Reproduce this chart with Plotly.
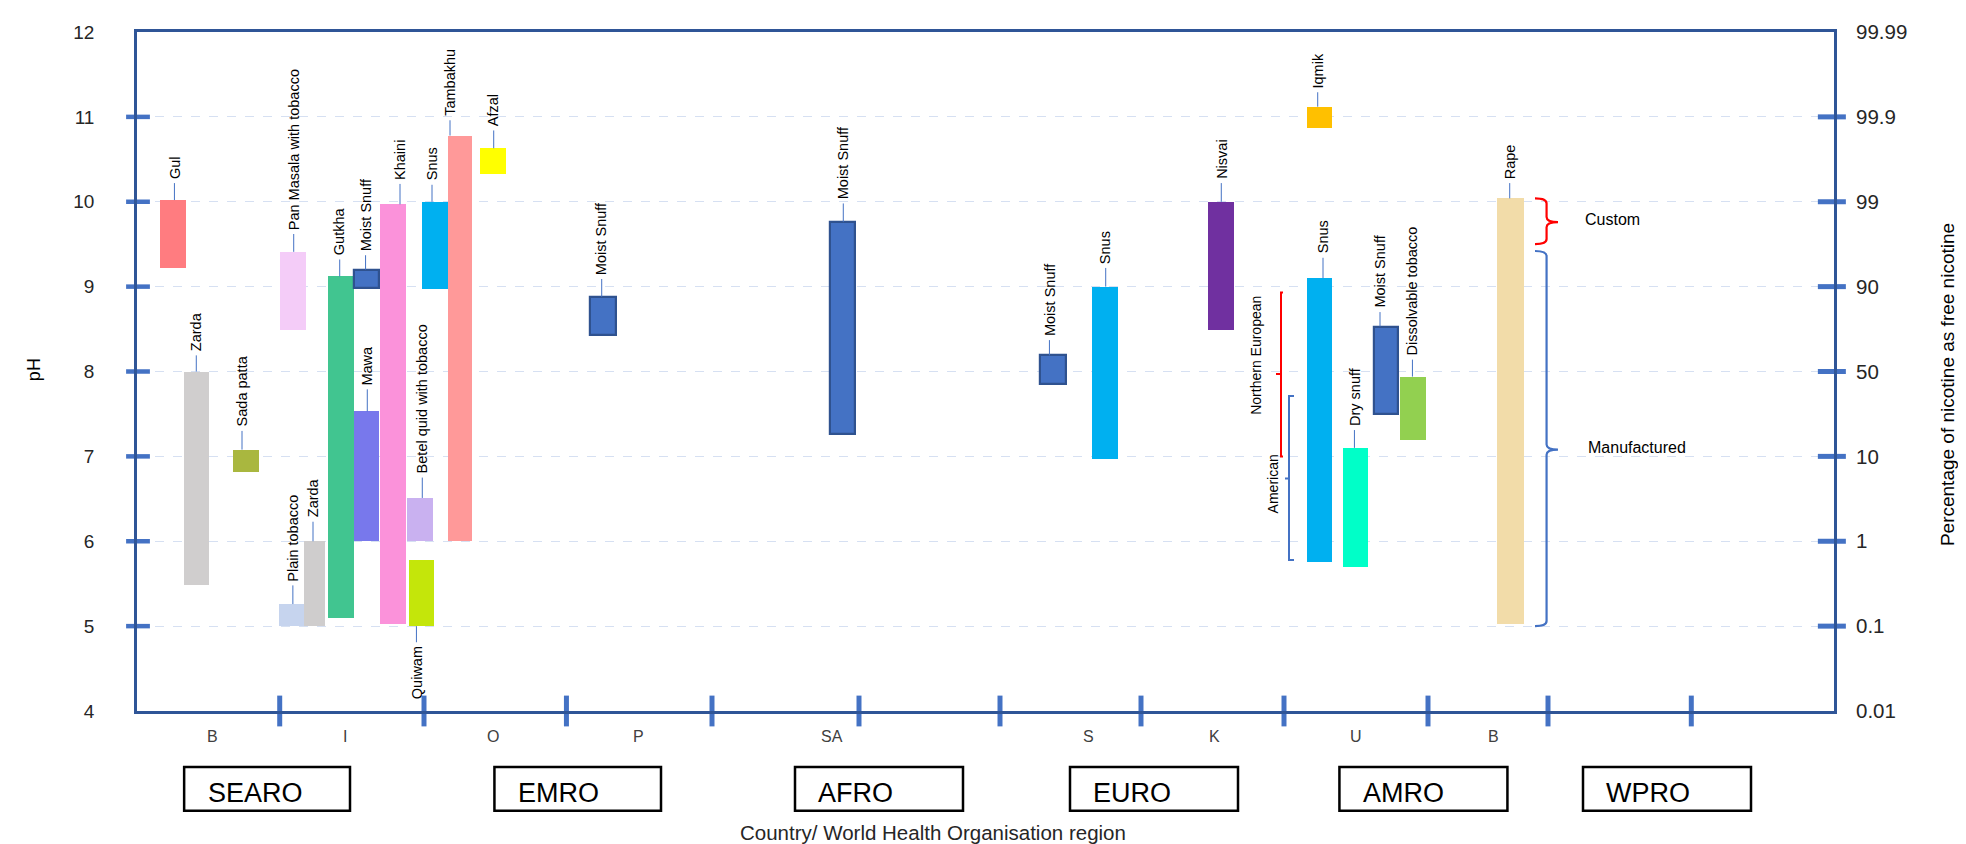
import plotly.graph_objects as go

# ---------------- data ----------------
# x axis: one unit per country slot
country_codes = ["B", "I", "O", "P", "SA", "S", "K", "U", "B"]
country_pos = [0.525, 1.456, 2.492, 3.512, 4.863, 6.662, 7.539, 8.533, 9.497]
slot_ticks = [0.999, 2.009, 3.006, 4.025, 5.054, 6.041, 7.028, 8.029, 9.037, 9.877, 10.88]

who_regions = ["SEARO", "EMRO", "AFRO", "EURO", "AMRO", "WPRO"]
region_from = [0.33, 2.502, 4.606, 6.531, 8.417, 10.122]
region_to = [1.491, 3.668, 5.782, 7.707, 9.593, 11.298]

ph_ticks = [4, 5, 6, 7, 8, 9, 10, 11, 12]
pct_free = ["0.01", "0.1", "1", "10", "50", "90", "99", "99.9", "99.99"]

products = ["Gul", "Zarda", "Sada patta", "Pan Masala with tobacco", "Plain tobacco",
            "Zarda", "Gutkha", "Moist Snuff", "Mawa", "Khaini",
            "Betel quid with tobacco", "Quiwam", "Snus", "Tambakhu", "Afzal",
            "Moist Snuff", "Moist Snuff", "Moist Snuff", "Snus", "Nisvai",
            "Iqmik", "Snus", "Dry snuff", "Moist Snuff", "Dissolvable tobacco", "Rape"]
product_x = [0.253, 0.416, 0.762, 1.094, 1.081,
             1.241, 1.430, 1.607, 1.607, 1.791,
             1.980, 1.992, 2.086, 2.263, 2.491,
             3.264, 4.938, 6.413, 6.777, 7.589,
             8.278, 8.278, 8.529, 8.745, 8.930, 9.614]
ph_low = [9.22, 5.49, 6.82, 8.49, 5.00,
          5.00, 5.09, 8.98, 6.00, 5.02,
          6.00, 5.00, 8.97, 6.00, 10.33,
          8.43, 7.26, 7.85, 6.97, 8.49,
          10.87, 5.75, 5.70, 7.50, 7.19, 5.02]
ph_high = [10.02, 8.00, 7.08, 9.41, 5.26,
           6.00, 9.12, 9.20, 7.53, 9.97,
           6.51, 5.78, 10.00, 10.78, 10.63,
           8.88, 9.76, 8.19, 9.00, 10.00,
           11.12, 9.10, 7.10, 8.53, 7.94, 10.04]

# bracket groups (pH spans)
bracket_names = ["Northern European", "American", "Custom", "Manufactured"]
bracket_top = [8.93, 7.71, 10.04, 9.42]
bracket_mid = [7.97, 6.74, 9.76, 7.08]
bracket_bot = [7.00, 5.78, 9.50, 5.00]

# ---------------- styles / label placement ----------------
bar_colors = ["#FF7C80", "#D0CECE", "#A9B73F", "#F4CCF8", "#C6D4EE",
              "#CFCDCD", "#41C590", "#4472C4", "#7878EC", "#FB92DA",
              "#C9B1F0", "#C4E60A", "#00B0F0", "#FF9999", "#FFFF00",
              "#4472C4", "#4472C4", "#4472C4", "#00B0F0", "#7030A0",
              "#FFC000", "#00B0F0", "#00FFC8", "#4472C4", "#92D050", "#F2DCA9"]
bar_widths = [0.18, 0.18, 0.18, 0.18, 0.17,
              0.15, 0.18, 0.18, 0.18, 0.18,
              0.18, 0.18, 0.18, 0.17, 0.18,
              0.18, 0.18, 0.18, 0.18, 0.18,
              0.18, 0.18, 0.18, 0.17, 0.18, 0.19]
label_x = [0.262, 0.415, 0.735, 1.097, 1.091,
           1.232, 1.419, 1.600, 1.612, 1.841,
           1.997, 1.956, 2.065, 2.191, 2.497,
           3.253, 4.944, 6.387, 6.781, 7.590,
           8.265, 8.302, 8.522, 8.701, 8.928, 9.609]
label_y = [10.22, 8.19, 7.30, 9.62, 5.48,
           6.23, 9.32, 9.37, 7.79, 10.21,
           6.75, 4.81, 10.20, 10.96, 10.84,
           9.09, 9.98, 8.37, 9.22, 10.22,
           11.29, 9.34, 7.31, 8.70, 8.14, 10.22]
label_below = [p == "Quiwam" for p in products]

AXIS = "#2F5597"
TICK = "#4472C4"
FONT = "Liberation Sans, Arial, sans-serif"
XMAX = 11.879

fig = go.Figure()

# bars: floating ranges from ph_low to ph_high
is_moist = [p == "Moist Snuff" for p in products]
fig.add_trace(go.Bar(
    x=product_x, y=[h - l for h, l in zip(ph_high, ph_low)], base=ph_low,
    width=bar_widths,
    marker=dict(color=bar_colors,
                line=dict(color=["#2F528F" if m else c for m, c in zip(is_moist, bar_colors)],
                          width=[2.2 if m else 0 for m in is_moist])),
    showlegend=False, hoverinfo="skip"))

# x-axis tick dashes
fig.add_trace(go.Scatter(
    x=slot_ticks, y=[ph_ticks[0]] * len(slot_ticks), mode="markers",
    marker=dict(symbol="line-ns", size=22, line=dict(width=5, color=TICK)),
    cliponaxis=False, showlegend=False, hoverinfo="skip"))
# left y-axis tick dashes
inner = ph_ticks[1:-1]
fig.add_trace(go.Scatter(
    x=[0.007] * len(inner), y=inner, mode="markers",
    marker=dict(symbol="line-ew", size=17, line=dict(width=4.5, color=TICK)),
    cliponaxis=False, showlegend=False, hoverinfo="skip"))
# right y-axis tick dashes (on secondary axis)
fig.add_trace(go.Scatter(
    x=[XMAX - 0.015] * len(inner), y=inner, mode="markers", yaxis="y2",
    marker=dict(symbol="line-ew", size=20, line=dict(width=5, color=TICK)),
    cliponaxis=False, showlegend=False, hoverinfo="skip"))

shapes = []
annotations = []

# product labels and leader lines
for name, lx, ly, lo, hi, below in zip(products, label_x, label_y, ph_low, ph_high, label_below):
    if below:
        shapes.append(dict(type="line", xref="x", yref="y", x0=lx, x1=lx, y0=lo, y1=ly,
                           line=dict(color=TICK, width=1)))
        annotations.append(dict(text=name, x=lx, y=ly, xref="x", yref="y", textangle=-90,
                                xanchor="center", yanchor="top", yshift=-2, showarrow=False,
                                font=dict(family=FONT, size=14.5, color="#000000")))
    else:
        shapes.append(dict(type="line", xref="x", yref="y", x0=lx, x1=lx, y0=hi, y1=ly,
                           line=dict(color=TICK, width=1)))
        annotations.append(dict(text=name, x=lx, y=ly, xref="x", yref="y", textangle=-90,
                                xanchor="center", yanchor="bottom", yshift=2, showarrow=False,
                                font=dict(family=FONT, size=14.5, color="#000000")))

# left-facing brackets (Northern European / American)
left_br = [(8.008, 8.022, 7.973, "#FF0000"), (8.064, 8.099, 8.036, TICK)]
for (xv, xh, xs, col), t, m, b in zip(left_br, bracket_top[:2], bracket_mid[:2], bracket_bot[:2]):
    path = (f"M {xh},{t} L {xv},{t} L {xv},{b} L {xh},{b} "
            f"M {xv},{m} L {xs},{m}")
    shapes.append(dict(type="path", xref="x", yref="y", path=path,
                       line=dict(color=col, width=2)))
annotations.append(dict(text=bracket_names[0], x=7.833, y=(bracket_top[0] + bracket_bot[0]) / 2 + 0.22,
                        xref="x", yref="y", textangle=-90, showarrow=False,
                        font=dict(family=FONT, size=14, color="#000000")))
annotations.append(dict(text=bracket_names[1], x=7.952, y=bracket_mid[1] - 0.07,
                        xref="x", yref="y", textangle=-90, showarrow=False,
                        font=dict(family=FONT, size=14, color="#000000")))


# right-facing curly braces (Custom / Manufactured)
def brace(xl, xv, xt, t, m, b, r):
    return (f"M {xl},{t} Q {xv},{t} {xv},{t - r} L {xv},{m + r} Q {xv},{m} {xt},{m} "
            f"Q {xv},{m} {xv},{m - r} L {xv},{b + r} Q {xv},{b} {xl},{b}")


for col, t, m, b in zip(["#FF0000", TICK], bracket_top[2:], bracket_mid[2:], bracket_bot[2:]):
    shapes.append(dict(type="path", xref="x", yref="y",
                       path=brace(9.786, 9.867, 9.947, t, m, b, 0.06),
                       line=dict(color=col, width=2.2)))
for name, m, tx in zip(bracket_names[2:], [9.79, 7.11], [10.122, 10.14]):
    annotations.append(dict(text=name, x=tx, y=m, xref="x", yref="y", xanchor="left",
                            showarrow=False, font=dict(family=FONT, size=16, color="#000000")))

# country codes under the axis
for code, cx in zip(country_codes, country_pos):
    annotations.append(dict(text=code, x=cx, y=-0.0373, xref="x", yref="paper",
                            showarrow=False, yanchor="middle",
                            font=dict(family=FONT, size=16, color="#404040")))

# WHO region boxes
for reg, x0, x1 in zip(who_regions, region_from, region_to):
    shapes.append(dict(type="rect", xref="paper", yref="paper", x0=x0 / XMAX, x1=x1 / XMAX,
                       y0=-0.1468, y1=-0.0825, line=dict(color="#000000", width=2.5)))
    annotations.append(dict(text=reg, x=x0 + 0.15, y=-0.121, xref="x", yref="paper",
                            xanchor="left", yanchor="middle", showarrow=False,
                            font=dict(family=FONT, size=27, color="#000000")))

# axis titles
annotations.append(dict(text="Country/ World Health Organisation region", x=5.572, y=-0.1795,
                        xref="x", yref="paper", showarrow=False, yanchor="middle",
                        borderpad=0,
                        font=dict(family=FONT, size=20.5, color="#262626")))
annotations.append(dict(text="pH", x=-0.0603, y=0.503, xref="paper", yref="paper",
                        textangle=-90, showarrow=False, xanchor="center", yanchor="middle",
                        font=dict(family=FONT, size=18, color="#000000")))
annotations.append(dict(text="Percentage of nicotine as free nicotine", x=1.0666, y=0.48,
                        xref="paper", yref="paper", textangle=-90, showarrow=False,
                        xanchor="center", yanchor="middle",
                        font=dict(family=FONT, size=19, color="#000000")))

fig.update_layout(
    width=1966, height=844, autosize=False,
    margin=dict(l=129, r=140, t=19, b=141),
    plot_bgcolor="#FFFFFF", paper_bgcolor="#FFFFFF",
    bargap=0, barmode="overlay",
    xaxis=dict(range=[0, XMAX], showgrid=False, zeroline=False, showticklabels=False,
               ticks="", showline=True, linecolor=AXIS, linewidth=2.5, mirror=True,
               fixedrange=True),
    yaxis=dict(range=[4, 12], tickvals=ph_ticks, ticks="", showline=True, linecolor=AXIS,
               linewidth=2.5, mirror=True, zeroline=False,
               showgrid=True, gridcolor="#D6E0F2", griddash="dash", gridwidth=1,
               tickfont=dict(family=FONT, size=19, color="#262626"),
               ticklabelstandoff=36),
    yaxis2=dict(range=[4, 12], tickvals=ph_ticks, ticktext=pct_free, overlaying="y",
                side="right", showgrid=False, zeroline=False, ticks="", showline=False,
                tickfont=dict(family=FONT, size=20.5, color="#262626"),
                ticklabelstandoff=21),
    shapes=shapes, annotations=annotations,
    font=dict(family=FONT),
)

fig.write_html("out.html")
